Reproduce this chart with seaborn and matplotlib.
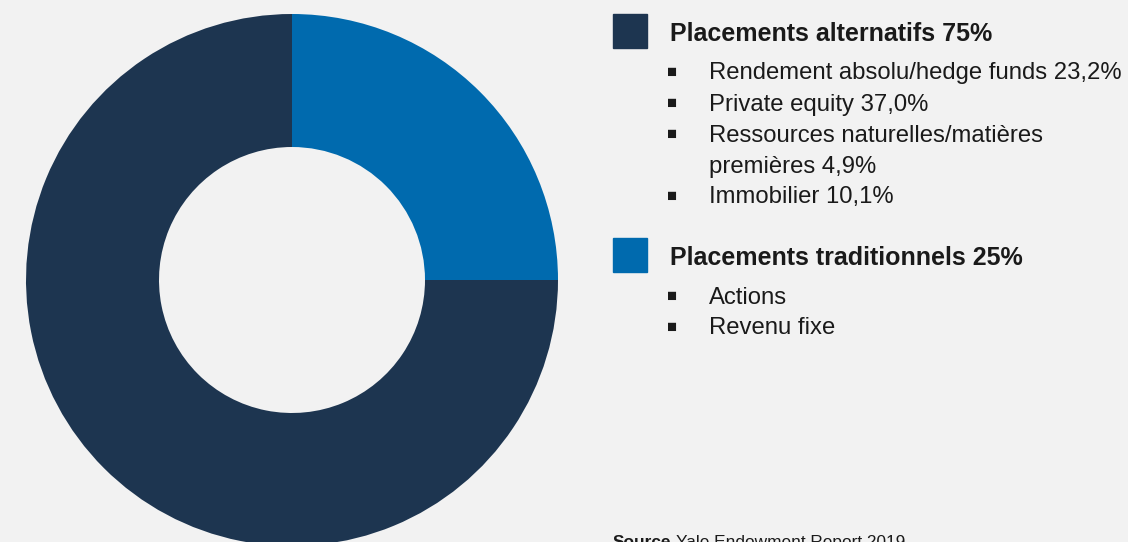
import matplotlib
matplotlib.use("Agg")
import matplotlib.pyplot as plt
import seaborn as sns

# data
groups = ["Placements alternatifs", "Placements traditionnels"]
shares = [75, 25]
colors = ["#1d3550", "#006aae"]
alt_items = ["Rendement absolu/hedge funds 23,2%", "Private equity 37,0%",
             "Ressources naturelles/matières\npremières 4,9%", "Immobilier 10,1%"]
trad_items = ["Actions", "Revenu fixe"]
source_label = "Source"
source_text = "Yale Endowment Report 2019"

sns.set_theme(style="white")
plt.rcParams['font.family'] = ['Liberation Sans', 'DejaVu Sans']

W, H = 1128, 542
bg = "#f2f2f2"
fig = plt.figure(figsize=(W / 100, H / 100), dpi=100, facecolor=bg)

# donut, placed in pixel coords (it runs off the bottom edge)
cx, cy, r = 292, 280, 266
ax = fig.add_axes([(cx - r) / W, (H - cy - r) / H, 2 * r / W, 2 * r / H])
ax.set_facecolor(bg)
ax.pie(shares, colors=colors, startangle=90, counterclock=True,
       wedgeprops=dict(width=0.5, linewidth=0))
ax.set_xlim(-1, 1)
ax.set_ylim(-1, 1)
ax.axis("off")


def px(x, y):
    return x / W, 1 - y / H


txt_color = "#1a1a1a"


def block(y0, color, title, pct, items):
    fig.patches.append(plt.Rectangle(px(613, y0 + 17), 34 / W, 34 / H,
                                     transform=fig.transFigure, color=color))
    fig.text(*px(670, y0 + 3), f"{title} {pct}%", fontsize=18, fontweight="bold",
             color=txt_color, va="center")
    y = y0 + 40
    for item in items:
        fig.text(*px(667, y + 1), "■", fontsize=12, color=txt_color, va="center")
        for line in item.split("\n"):
            fig.text(*px(709, y + 2.5), line, fontsize=17.2, color=txt_color,
                     va="center")
            y += 31


block(31, colors[0], groups[0], shares[0], alt_items)
block(255, colors[1], groups[1], shares[1], trad_items)

t1 = fig.text(*px(613, 535), source_label, fontsize=12.4, fontweight="bold",
              color=txt_color, va="top")
fig.canvas.draw()
bb = t1.get_window_extent()
fig.text(bb.x1 / W + 5 / W, 1 - 535 / H, source_text, fontsize=12.4,
         color=txt_color, va="top")

fig.savefig("out.png", dpi=100, facecolor=bg)
